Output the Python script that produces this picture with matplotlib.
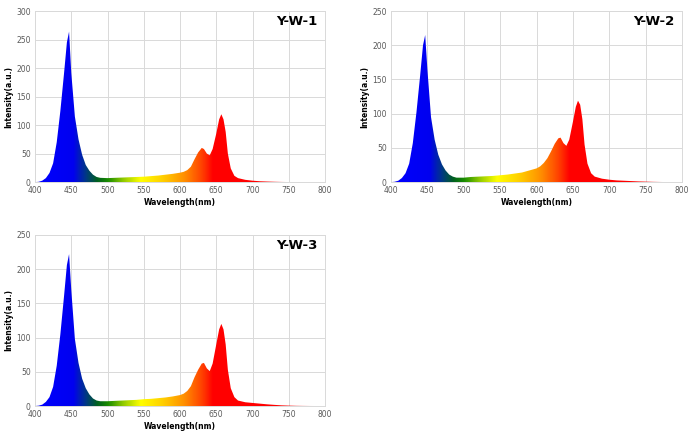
import matplotlib
matplotlib.use("Agg")
import matplotlib.pyplot as plt
import numpy as np
from matplotlib.colors import LinearSegmentedColormap

# wavelength grid (nm) shared by the three spectra
wl = [400, 405, 410, 415, 420, 425, 430, 435, 440, 444, 447, 450, 455, 460, 465,
      470, 475, 480, 485, 490, 500, 510, 520, 530, 540, 550, 560, 570, 580, 590,
      600, 605, 610, 615, 620, 625, 630, 633, 637, 641, 645, 650, 654, 657, 660,
      663, 666, 670, 675, 680, 690, 700, 710, 720, 730, 740, 750, 760, 770, 780, 790, 800]

yw1 = [0, 0.5, 2.5, 7, 16, 33, 70, 125, 190, 245, 264, 192, 115, 75, 48,
       30, 20, 13, 9, 7.5, 7, 7.5, 8, 8.5, 9, 9.5, 10.5, 11.5, 13, 14.5,
       16.5, 18, 21, 27, 40, 52, 60, 58, 50, 47, 58, 85, 110, 119, 110,
       88, 50, 24, 11, 7, 4, 2.5, 1.5, 1, 0.6, 0.3, 0.1, 0, 0, 0, 0, 0]

yw2 = [0, 0.5, 2, 6, 13, 27, 57, 102, 155, 200, 215, 165, 95, 62, 40,
       26, 17, 11, 8, 6.5, 6.5, 7.5, 8, 8.5, 9, 10, 11, 12.5, 14, 17,
       20, 23, 28, 35, 45, 56, 64, 65, 57, 53, 62, 88, 110, 119, 113,
       92, 55, 27, 13, 8, 5, 3.5, 2.5, 2, 1.5, 1, 0.7, 0.4, 0.2, 0.05, 0, 0]

yw3 = [0, 0.5, 2, 6, 13, 28, 59, 105, 160, 206, 222, 170, 98, 63, 40,
       26, 17, 11, 8, 7, 7, 7.5, 8, 8.5, 9, 10, 10.5, 11.5, 12.5, 14,
       16, 18, 22, 29, 42, 53, 62, 63, 55, 51, 62, 90, 112, 120, 112,
       90, 53, 26, 13, 8, 5.5, 4.5, 3.5, 2.5, 1.7, 1, 0.6, 0.3, 0.15, 0.05, 0, 0]

names = ["Y-W-1", "Y-W-2", "Y-W-3"]
ymax = [300, 250, 250]

# spectrum colours along the wavelength axis
stops = [(400, "#0000ff"), (452, "#0000f0"), (470, "#003a80"), (485, "#006020"),
         (500, "#1a8c00"), (520, "#8cc800"), (545, "#ffff00"), (575, "#ffd000"),
         (605, "#ff9000"), (630, "#ff4000"), (645, "#ff0000"), (800, "#ff0000")]
cmap = LinearSegmentedColormap.from_list(
    "spec", [((w - 400) / 400, c) for w, c in stops])

fig = plt.figure(figsize=(6.93, 4.42), dpi=100)
boxes = [[0.0505, 0.588, 0.4185, 0.387],
         [0.5642, 0.588, 0.42, 0.387],
         [0.0505, 0.0814, 0.4185, 0.387]]

for box, name, y, top in zip(boxes, names, [yw1, yw2, yw3], ymax):
    ax = fig.add_axes(box)
    grad = np.linspace(0, 1, 800).reshape(1, -1)
    im = ax.imshow(grad, cmap=cmap, aspect="auto", extent=[400, 800, 0, top],
                   origin="lower", zorder=2)
    poly = ax.fill_between(wl, y, 0, color="none", lw=0)
    im.set_clip_path(poly.get_paths()[0], transform=ax.transData)
    ax.set_xlim(400, 800)
    ax.set_ylim(0, top)
    ax.set_xticks(np.arange(400, 801, 50))
    ax.set_yticks(np.arange(0, top + 1, 50))
    ax.grid(True, color="#d9d9d9", lw=0.7, zorder=0)
    ax.set_axisbelow(True)
    for s in ax.spines.values():
        s.set_color("#d9d9d9")
        s.set_linewidth(0.7)
    ax.tick_params(length=0, labelsize=5.5, labelcolor="#595959", pad=3)
    ax.set_xlabel("Wavelength(nm)", fontsize=5.5, fontweight="bold", labelpad=2)
    ax.set_ylabel("Intensity(a.u.)", fontsize=5.5, fontweight="bold", labelpad=2)
    ax.text(0.975, 0.975, name, transform=ax.transAxes, ha="right", va="top",
            fontsize=9.5, fontweight="bold")

plt.savefig("out.png", dpi=100)
